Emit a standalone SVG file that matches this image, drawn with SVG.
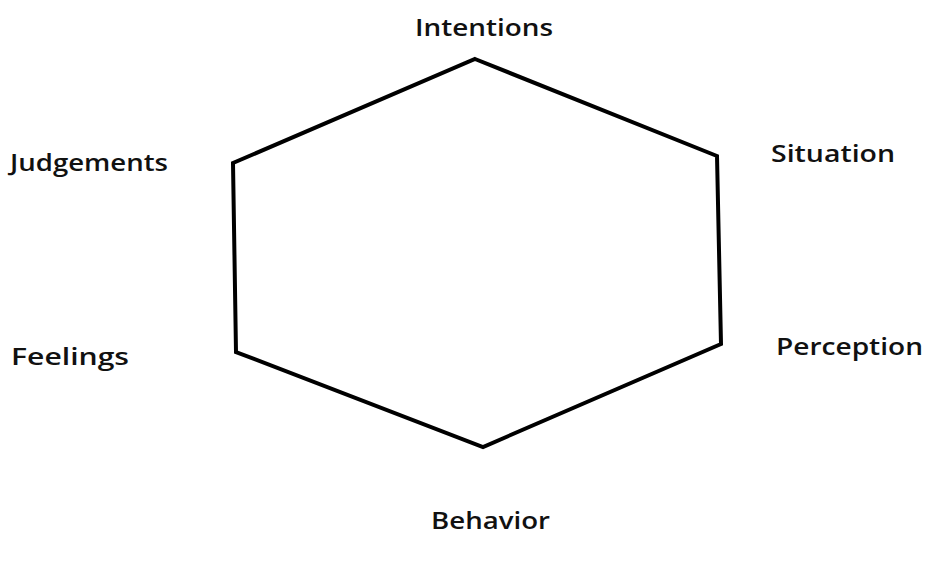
<svg xmlns="http://www.w3.org/2000/svg" width="929" height="561" viewBox="0 0 929 561">
<style>
.lbl{font-family:"Open Sans","Liberation Sans","DejaVu Sans",sans-serif;font-size:24px;font-weight:600;fill:#111;}
.edge{fill:none;stroke:#000;stroke-width:4;stroke-linejoin:miter;}
</style>
<rect width="929" height="561" fill="#fff"/>
<g id="connectors">
<polygon class="edge" points="475,59 717,156 721,344 483,447 236,352 233,163"/>
</g>
<g id="intentions"><text class="lbl" x="415" y="36" textLength="138" lengthAdjust="spacingAndGlyphs">Intentions</text></g>
<g id="judgements"><text class="lbl" x="10" y="171" textLength="158" lengthAdjust="spacingAndGlyphs">Judgements</text></g>
<g id="situation"><text class="lbl" x="771" y="162" textLength="124" lengthAdjust="spacingAndGlyphs">Situation</text></g>
<g id="feelings"><text class="lbl" x="11" y="365" textLength="118" lengthAdjust="spacingAndGlyphs">Feelings</text></g>
<g id="perception"><text class="lbl" x="776" y="355" textLength="147" lengthAdjust="spacingAndGlyphs">Perception</text></g>
<g id="behavior"><text class="lbl" x="431" y="529" textLength="119" lengthAdjust="spacingAndGlyphs">Behavior</text></g>
</svg>
